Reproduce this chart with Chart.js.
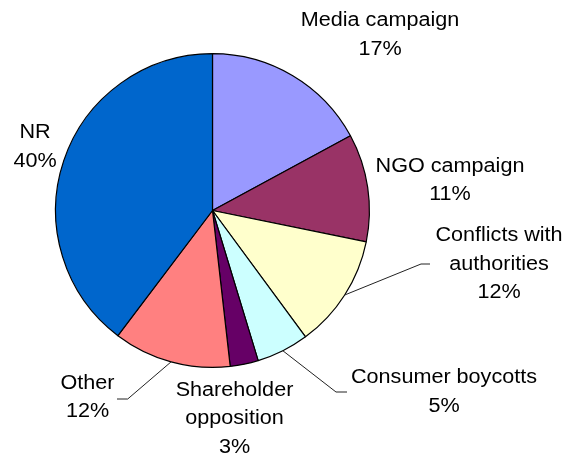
<!DOCTYPE html>
<html><head><meta charset="utf-8">
<script src="https://cdn.jsdelivr.net/npm/chart.js@4.4.1/dist/chart.umd.min.js"></script>
<style>html,body{margin:0;padding:0;background:#fff;overflow:hidden}canvas{display:block}</style>
</head><body>
<canvas id="c" width="564" height="462"></canvas>
<script>
// ---- data ----
const categories = ["Media campaign", "NGO campaign", "Conflicts with authorities", "Consumer boycotts", "Shareholder opposition", "Other", "NR"];
const labelLines = [["Media campaign"], ["NGO campaign"], ["Conflicts with", "authorities"], ["Consumer boycotts"], ["Shareholder", "opposition"], ["Other"], ["NR"]];
const shares = [17.1, 11.1, 11.7, 5.4, 2.9, 12.1, 39.7];
const colors = ["#9999FF", "#993366", "#FFFFCC", "#CCFFFF", "#660066", "#FF8080", "#0066CC"];

// ---- label layout (offsets from pie centre, px) ----
const labelLayout = [
  { dx: 167.5, dy: -175.5 },
  { dx: 237.5, dy: -30 },
  { dx: 286.5, dy: 53.5, elbow: [208.5, 53.5], end: [217.5, 53.5] },
  { dx: 231.5, dy: 181.5, elbow: [123.5, 181.5], end: [134.5, 181.5] },
  { dx: 22, dy: 208 },
  { dx: -125, dy: 187, elbow: [-84.8, 188.5], end: [-95.5, 188.5] },
  { dx: -177.5, dy: -63.5 }
];
const FONT_SIZE = 20;
const LINE_H = 28.5;
const TEXT_SCALE_X = 1.08;

const total = shares.reduce((a, b) => a + b, 0);

const labelPlugin = {
  id: 'pieLabels',
  afterDatasetsDraw(chart) {
    const ctx = chart.ctx;
    const meta = chart.getDatasetMeta(0);
    ctx.save();
    meta.data.forEach((arc, i) => {
      const p = arc.getProps(['x', 'y', 'startAngle', 'endAngle', 'outerRadius'], true);
      const lay = labelLayout[i];
      const mid = (p.startAngle + p.endAngle) / 2;
      if (lay.elbow) {
        ctx.beginPath();
        ctx.strokeStyle = '#222';
        ctx.lineWidth = 1;
        ctx.moveTo(p.x + Math.cos(mid) * p.outerRadius, p.y + Math.sin(mid) * p.outerRadius);
        ctx.lineTo(p.x + lay.elbow[0], p.y + lay.elbow[1]);
        ctx.lineTo(p.x + lay.end[0], p.y + lay.end[1]);
        ctx.stroke();
      }
      const lines = labelLines[i].concat([Math.round(shares[i] / total * 100) + '%']);
      const bx = p.x + lay.dx, by = p.y + lay.dy;
      ctx.fillStyle = '#000';
      ctx.font = FONT_SIZE + 'px "Liberation Sans", Arial, sans-serif';
      ctx.textAlign = 'center';
      ctx.textBaseline = 'middle';
      lines.forEach((t, k) => {
        const ly = by - (lines.length - 1) / 2 * LINE_H + k * LINE_H;
        ctx.save();
        ctx.translate(bx, ly);
        ctx.scale(TEXT_SCALE_X, 1);
        ctx.fillText(t, 0, 0);
        ctx.restore();
      });
    });
    ctx.restore();
  }
};

new Chart(document.getElementById('c'), {
  type: 'pie',
  data: {
    labels: categories,
    datasets: [{
      data: shares,
      backgroundColor: colors,
      borderColor: '#000',
      borderWidth: 1.2
    }]
  },
  options: {
    responsive: false,
    animation: false,
    devicePixelRatio: 1,
    layout: { padding: { left: 55, top: 53, right: 194, bottom: 94 } },
    plugins: { legend: { display: false }, tooltip: { enabled: false } }
  },
  plugins: [labelPlugin]
});
</script>
</body></html>
